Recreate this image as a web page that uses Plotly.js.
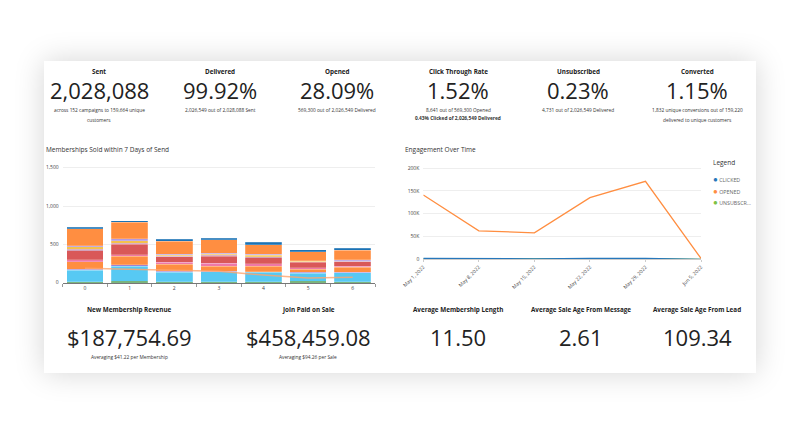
<!DOCTYPE html>
<html><head><meta charset="utf-8">
<script src="https://cdn.plot.ly/plotly-3.0.1.min.js"></script>
<style>
html,body{margin:0;padding:0;background:#fff;width:800px;height:440px;overflow:hidden}
#card{position:absolute;left:44px;top:61px;width:712px;height:312px;background:#fff;box-shadow:0 0 28px rgba(0,0,0,0.17)}
#chart{position:absolute;left:0;top:0;width:800px;height:440px}
</style></head><body>
<div id="card"></div><div id="chart"></div>
<script>
// ---------- KPI data ----------
const kpiTitles = ['Sent','Delivered','Opened','Click Through Rate','Unsubscribed','Converted'];
const kpiValues = ['2,028,088','99.92%','28.09%','1.52%','0.23%','1.15%'];
const kpiSub1 = ['across 152 campaigns to 159,664 unique','2,026,549 out of 2,028,088 Sent','569,300 out of 2,026,549 Delivered','8,641 out of 569,300 Opened','4,731 out of 2,026,549 Delivered','1,832 unique conversions out of 159,220'];
const kpiSub2 = ['customers','','','<b>0.43% Clicked of 2,026,549 Delivered</b>','','delivered to unique customers'];

const bottomTitles = ['New Membership Revenue','Join Paid on Sale','Average Membership Length','Average Sale Age From Message','Average Sale Age From Lead'];
const bottomValues = ['$187,754.69','$458,459.08','11.50','2.61','109.34'];
const bottomSubs = ['Averaging $41.22 per Membership','Averaging $94.26 per Sale','','',''];

// ---------- Memberships Sold (stacked bars) ----------
const barCategories = ['0','1','2','3','4','5','6'];
const segGreen      = [15, 20, 10, 10, 10, 22, 13];
const segCyan       = [150,192,129,133,124, 99,117];
const segViolet     = [10, 20,  8,  8,  8, 13,  6];
const segOrangeLow  = [100,110, 91, 66, 75, 39, 63];
const segPink       = [22, 22, 26, 34, 30, 22, 18];
const segRed        = [123,140, 74, 96, 78, 69, 56];
const segMauve      = [15, 12, 10, 10, 12,  8,  8];
const segYellow     = [33, 34, 13, 12, 18,  6,  6];
const segLilac      = [13, 22, 12, 12, 13,  8, 12];
const segOrangeTop  = [220,217,169,178,130,121,126];
const segBlue       = [20, 20, 22, 22, 31, 26, 26];
const trendLine     = [190,175,158,148,100, 62, 72];
const barTicks = [0,500,1000,1500];

// ---------- Engagement Over Time ----------
const weeks = ['May 1, 2022','May 8, 2022','May 15, 2022','May 22, 2022','May 29, 2022','Jun 5, 2022'];
const clicked = [2200,1100,1000,2100,2200,41];
const opened = [141000,62500,58000,135000,171000,1800];
const unsubscribed = [1100,700,700,1000,1200,31];
const engTickVals = [0,50000,100000,150000,200000];
const engTickText = ['0','50K','100K','150K','200K'];
const legendNames = ['CLICKED','OPENED','UNSUBSCR...'];

// ---------- styling / layout ----------
const W = 800, H = 440;
const px = x => x / W, py = y => 1 - y / H;
const FONT = 'Open Sans, Noto Sans, sans-serif';
const segColors = ['#2f8a36','#57c9f3','#9d82d6','#ff8e41','#ee79a8','#d95858','#c88aa8','#f4c24c','#b39ae0','#ff8e41','#1b72b4'];
const segData = [segGreen,segCyan,segViolet,segOrangeLow,segPink,segRed,segMauve,segYellow,segLilac,segOrangeTop,segBlue];

const traces = [];
segData.forEach((arr,i)=>{
  traces.push({type:'bar', x:barCategories, y:arr, xaxis:'x', yaxis:'y',
    marker:{color:segColors[i], line:{color:'rgba(255,255,255,0.5)', width:0.4}},
    hoverinfo:'skip', showlegend:false});
});
traces.push({type:'scatter', mode:'lines', x:barCategories, y:trendLine, xaxis:'x', yaxis:'y',
  line:{color:'rgba(255,165,110,0.8)', width:1.5}, hoverinfo:'skip', showlegend:false});

const engColors = ['#2677bb','#ff8e41','#7dc242'];
const engSeries = [clicked, opened, unsubscribed];
[2,0,1].forEach(i=>{
  traces.push({type:'scatter', mode:'lines', x:weeks, y:engSeries[i], xaxis:'x2', yaxis:'y2',
    line:{color:engColors[i], width:1.3}, hoverinfo:'skip', showlegend:false});
});

const ann = [];
const topX = [99, 220, 337, 458, 578, 697];
kpiTitles.forEach((t,i)=>{
  ann.push({text:'<b>'+t+'</b>', x:px(topX[i]), y:py(71), font:{size:6.3,color:'#222',family:FONT}});
  ann.push({text:kpiValues[i], x:px(topX[i]), y:py(90), font:{size:22,color:'#222',family:FONT}});
  ann.push({text:kpiSub1[i], x:px(topX[i]), y:py(110), font:{size:4.8,color:'#333',family:FONT}});
  if(kpiSub2[i]) ann.push({text:kpiSub2[i], x:px(topX[i]), y:py(i===3?118:119.5), font:{size:4.8,color:'#333',family:FONT}});
});
const botX = [129, 308, 458, 581, 697];
bottomTitles.forEach((t,i)=>{
  ann.push({text:'<b>'+t+'</b>', x:px(botX[i]), y:py(309), font:{size:6.3,color:'#222',family:FONT}});
  ann.push({text:bottomValues[i], x:px(botX[i]), y:py(337), font:{size:22,color:'#222',family:FONT}});
  if(bottomSubs[i]) ann.push({text:bottomSubs[i], x:px(botX[i]), y:py(357), font:{size:4.8,color:'#333',family:FONT}});
});
ann.push({text:'Memberships Sold within 7 Days of Send', x:px(44), y:py(150), xanchor:'left', font:{size:6.5,color:'#333',family:FONT}});
ann.push({text:'Engagement Over Time', x:px(403), y:py(150), xanchor:'left', font:{size:6.5,color:'#333',family:FONT}});
ann.push({text:'Legend', x:px(711), y:py(162), xanchor:'left', font:{size:6.5,color:'#333',family:FONT}});
legendNames.forEach((n,i)=>{
  ann.push({text:'<span style="color:'+engColors[i]+';font-size:8px">●</span> '+n, x:px(711), y:py(178.5+i*11.5), xanchor:'left', font:{size:5.3,color:'#666',family:FONT}});
});
ann.forEach(a=>{a.xref='paper'; a.yref='paper'; a.showarrow=false; if(!a.xanchor) a.xanchor='center'; a.yanchor='middle';});

const layout = {
  width:W, height:H, margin:{l:0,r:0,t:0,b:0},
  paper_bgcolor:'rgba(0,0,0,0)', plot_bgcolor:'rgba(0,0,0,0)',
  font:{family:FONT, color:'#555', size:5},
  barmode:'stack', bargap:0.18, showlegend:false,
  xaxis:{domain:[px(62.7), px(375)], type:'category', range:[-0.5,6.5],
    showline:true, linecolor:'#777', linewidth:1, ticks:'outside', tickson:'boundaries', ticklen:3, tickcolor:'#999',
    tickfont:{size:5,color:'#444'}, showgrid:false, zeroline:false, fixedrange:true, anchor:'y'},
  yaxis:{domain:[py(282.7), py(163.1)], range:[0,1560], tickvals:barTicks, tickformat:',d',
    showgrid:true, gridcolor:'#eeeeee', gridwidth:1, zeroline:false, showline:false, ticks:'',
    tickfont:{size:5,color:'#444'}, ticklabelstandoff:3, anchor:'x'},
  xaxis2:{domain:[px(423.3), px(701)], type:'category', range:[0,5],
    showline:true, linecolor:'#cccccc', linewidth:1, ticks:'outside', ticklen:2, tickcolor:'#ccc',
    tickangle:-45, tickfont:{size:5,color:'#444'}, showgrid:false, zeroline:false, anchor:'y2'},
  yaxis2:{domain:[py(259.3), py(165.3)], range:[0,206000], tickvals:engTickVals, ticktext:engTickText,
    showgrid:true, gridcolor:'#eeeeee', gridwidth:1, zeroline:false, showline:false, ticks:'',
    tickfont:{size:5,color:'#444'}, ticklabelstandoff:3, anchor:'x2'},
  annotations:ann
};
Plotly.newPlot('chart', traces, layout, {staticPlot:true, displayModeBar:false});
</script>
</body></html>
